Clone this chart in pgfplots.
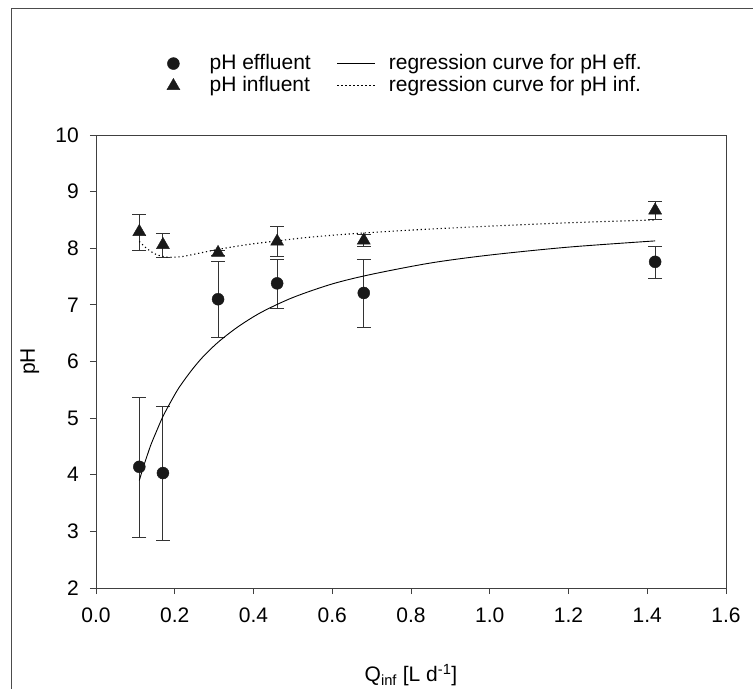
\documentclass[border=0pt]{standalone}
\usepackage{fontspec}
\setmainfont{Liberation Sans}
\usepackage{pgfplots}
\usepackage{pgfplotstable}
\pgfplotsset{compat=1.18}
\pgfplotsset{
  lineleg/.style={legend image code/.code={\draw[##1] (0bp,0bp) -- (38bp,0bp); \path (51bp,0bp);}},
  markleg/.style={legend image code/.code={\path (0bp,0bp) (44bp,0bp); \draw[##1] plot coordinates {(8bp,0bp)};}},
}

\pgfplotstableread{
x    y    ep   em
0.11 4.14 1.23 1.24
0.17 4.03 1.18 1.19
0.31 7.10 0.66 0.67
0.46 7.38 0.43 0.45
0.68 7.21 0.60 0.60
1.42 7.76 0.28 0.29
}\effdata

\pgfplotstableread{
x    y    ep   em
0.11 8.29 0.30 0.32
0.17 8.06 0.21 0.22
0.31 7.92 0.05 0.05
0.46 8.12 0.27 0.27
0.68 8.14 0.11 0.10
1.42 8.67 0.15 0.17
}\infdata

\begin{document}
\fontsize{21bp}{25bp}\selectfont
\begin{tikzpicture}
\draw[line width=1bp, black!70] (11bp,0bp) -- (11bp,680bp) -- (753bp,680bp);
\begin{axis}[
  at={(96bp,101bp)}, anchor=south west,
  scale only axis, width=630bp, height=453bp,
  xmin=0, xmax=1.6, ymin=2, ymax=10,
  xtick={0,0.2,0.4,0.6,0.8,1.0,1.2,1.4,1.6},
  ytick={2,3,4,5,6,7,8,9,10},
  xticklabel style={/pgf/number format/.cd, fixed, fixed zerofill, precision=1, /tikz/.cd, yshift=-7bp},
  yticklabel style={xshift=-4bp},
  /pgf/number format/assume math mode=true,
  tick label style={font=\fontsize{21bp}{25bp}\selectfont},
  label style={font=\fontsize{21bp}{25bp}\selectfont},
  axis line style={black!75, line width=0.9bp},
  tick style={black!75, line width=0.9bp},
  tick align=outside, major tick length=6bp,
  xtick pos=lower, ytick pos=left,
  xlabel={Q\textsubscript{inf} [L d\textsuperscript{-1}]},
  ylabel={pH},
  x label style={at={(axis description cs:0.5,-0.192)}, anchor=center},
  y label style={at={(axis description cs:-0.105,0.5)}, anchor=center},
  legend columns=2,
  legend cell align=left,
  legend style={at={(axis description cs:0.1048,1.185)}, anchor=north west,
    draw=none, fill=none, font=\fontsize{21bp}{25bp}\selectfont,
    nodes={inner xsep=0bp, inner ysep=1bp},
    row sep=2bp,
    /tikz/every even column/.append style={column sep=26bp}},
]
\addplot[only marks, mark=*, mark size=6bp, black, markleg,
  mark options={fill=black!90, draw=black!90},
  error bars/.cd, y dir=both, y explicit,
  error bar style={black!80, line width=0.9bp},
  error mark options={rotate=90, black!80, line width=0.9bp, mark size=7bp},
  ]
  table[x=x, y=y, y error plus=ep, y error minus=em] {\effdata};
\addlegendentry{pH effluent}

\addplot[black, line width=0.9bp, smooth, lineleg]
  coordinates {
  (0.11,3.90) (0.12,4.13) (0.13,4.34) (0.14,4.54) (0.155,4.79)
  (0.17,5.03) (0.19,5.29) (0.21,5.53) (0.24,5.82) (0.27,6.07)
  (0.31,6.34) (0.36,6.61) (0.42,6.87) (0.50,7.13) (0.60,7.37)
  (0.70,7.54) (0.85,7.74) (1.00,7.88) (1.20,8.02) (1.42,8.13)
  };
\addlegendentry{regression curve for pH eff.}

\addplot[only marks, mark=triangle*, mark size=7.5bp, black, markleg,
  mark options={fill=black!90, draw=black!90},
  error bars/.cd, y dir=both, y explicit,
  error bar style={black!80, line width=0.9bp},
  error mark options={rotate=90, black!80, line width=0.9bp, mark size=7bp},
  ]
  table[x=x, y=y, y error plus=ep, y error minus=em] {\infdata};
\addlegendentry{pH influent}

\addplot[black, line width=1.1bp, dash pattern=on 1.2bp off 2.8bp, smooth, lineleg]
  coordinates {
  (0.11,8.12) (0.13,7.99) (0.15,7.90) (0.17,7.855) (0.19,7.84)
  (0.22,7.855) (0.26,7.91) (0.31,7.98) (0.38,8.06) (0.46,8.13)
  (0.55,8.20) (0.68,8.27) (0.85,8.34) (1.00,8.39) (1.20,8.45)
  (1.42,8.50)
  };
\addlegendentry{regression curve for pH inf.}
\end{axis}
\pgfresetboundingbox
\useasboundingbox (0bp,0bp) rectangle (753bp,689bp);
\end{tikzpicture}
\end{document}
